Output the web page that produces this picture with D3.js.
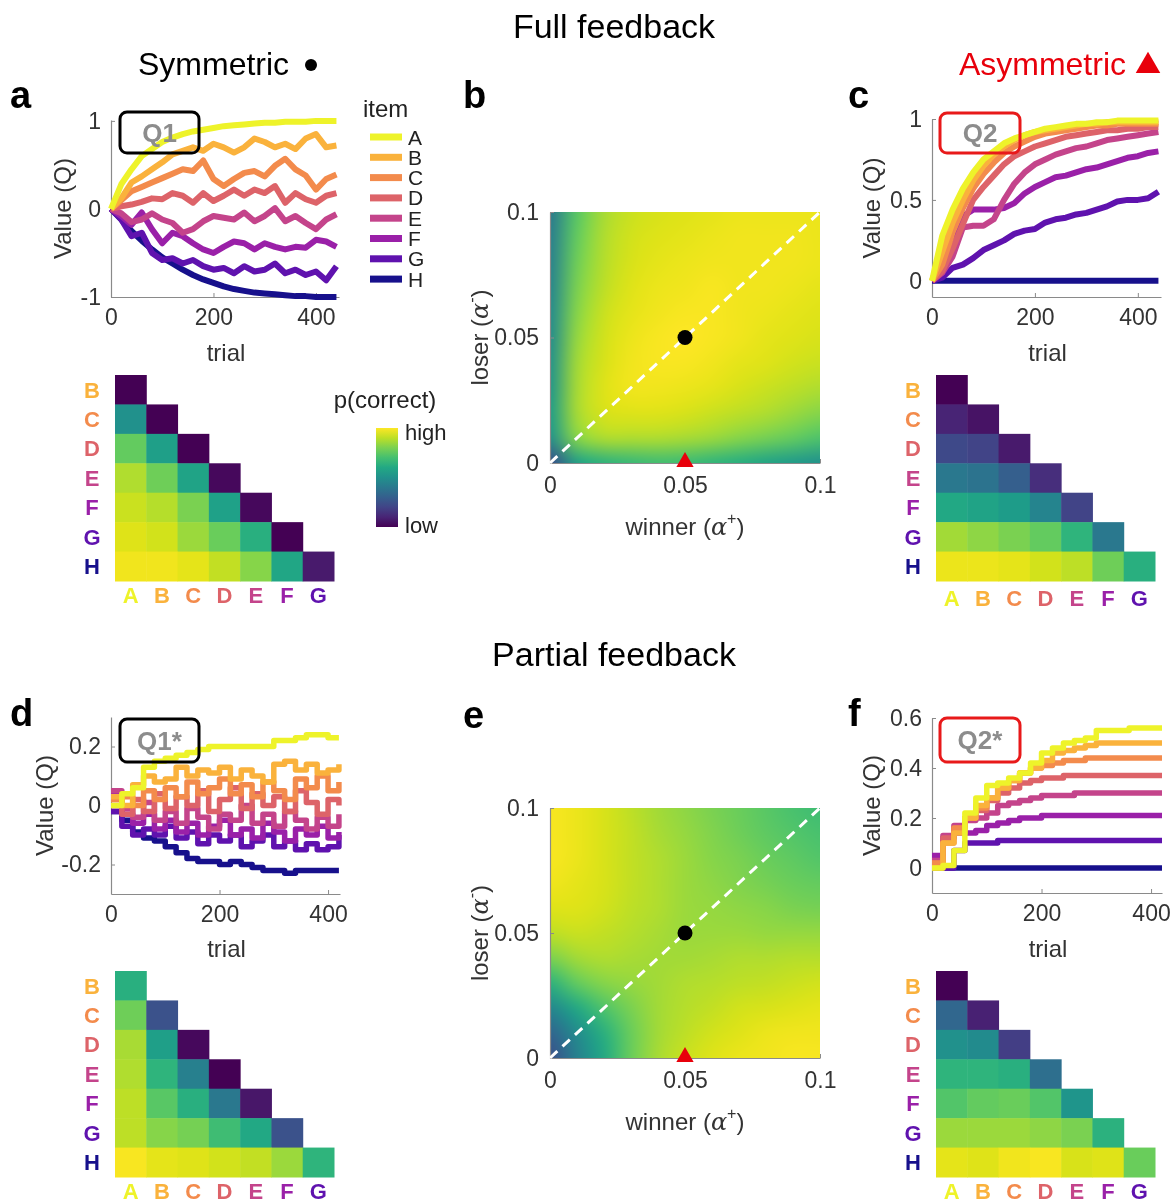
<!DOCTYPE html>
<html>
<head>
<meta charset="utf-8">
<script src="https://cdn.jsdelivr.net/npm/d3@7"></script>
<style>
  body { margin: 0; background: #fff; }
  #wrap { position: relative; width: 1174px; height: 1204px; background: #fff; }
  #surf, #fig { position: absolute; left: 0; top: 0; }
  #fig { font-family: "Liberation Sans", Arial, Helvetica, sans-serif; }
</style>
</head>
<body>
<div id="wrap">
  <canvas id="surf" width="1174" height="1204"></canvas>
  <svg id="fig" width="1174" height="1204"></svg>
</div>
<script>
// ---------- items ----------
const items = ["A", "B", "C", "D", "E", "F", "G", "H"];
const itemColors = ["#eef32a", "#fab23c", "#f38b4c", "#dd6369", "#c4448b", "#9a20a8", "#5f12ae", "#17108c"];

// ---------- trials ----------
const trialsFull = [0, 20, 40, 60, 80, 100, 120, 140, 160, 180, 200, 220, 240, 260, 280, 300, 320, 340, 360, 380, 400, 420, 440];
const trialsPartial = [0, 20, 40, 60, 80, 100, 120, 140, 160, 180, 200, 220, 240, 260, 280, 300, 320, 340, 360, 380, 400, 420];

// ---------- Q1 (symmetric, full feedback) ----------
const q1Full = [
  [0, 0.28, 0.45, 0.6, 0.68, 0.76, 0.81, 0.85, 0.88, 0.9, 0.92, 0.94, 0.95, 0.96, 0.97, 0.98, 0.98, 0.99, 0.99, 0.99, 1, 1, 1],
  [0, 0.12, 0.3, 0.37, 0.45, 0.53, 0.62, 0.66, 0.7, 0.66, 0.74, 0.7, 0.64, 0.7, 0.8, 0.76, 0.7, 0.74, 0.68, 0.8, 0.85, 0.7, 0.72],
  [0, 0.1, 0.2, 0.25, 0.3, 0.35, 0.4, 0.45, 0.43, 0.55, 0.34, 0.26, 0.34, 0.41, 0.43, 0.37, 0.49, 0.57, 0.45, 0.38, 0.22, 0.34, 0.39],
  [0, 0.03, 0.05, 0.08, 0.12, 0.11, 0.18, 0.15, 0.07, 0.18, 0.09, 0.15, 0.22, 0.15, 0.22, 0.18, 0.26, 0.07, 0.18, 0.11, 0.07, 0.15, 0.18],
  [0, -0.05, -0.15, -0.12, -0.05, -0.12, -0.16, -0.27, -0.23, -0.14, -0.08, -0.1, -0.12, -0.04, -0.14, -0.08, 0.01, -0.14, -0.08, -0.16, -0.23, -0.12, -0.06],
  [0, -0.08, -0.18, -0.04, -0.23, -0.39, -0.27, -0.31, -0.39, -0.46, -0.5, -0.43, -0.37, -0.39, -0.46, -0.39, -0.43, -0.46, -0.43, -0.44, -0.35, -0.37, -0.43],
  [0, -0.12, -0.31, -0.27, -0.5, -0.58, -0.56, -0.62, -0.58, -0.65, -0.69, -0.67, -0.73, -0.65, -0.71, -0.69, -0.62, -0.73, -0.69, -0.75, -0.71, -0.81, -0.65],
  [0, -0.12, -0.25, -0.36, -0.46, -0.55, -0.62, -0.69, -0.75, -0.8, -0.84, -0.88, -0.91, -0.93, -0.95, -0.96, -0.97, -0.98, -0.99, -0.99, -1, -1, -1]
];

// ---------- Q2 (asymmetric, full feedback) ----------
const q2Full = [
  [0, 0.28, 0.44, 0.57, 0.67, 0.75, 0.8, 0.85, 0.88, 0.9, 0.92, 0.94, 0.95, 0.96, 0.97, 0.97, 0.98, 0.98, 0.99, 0.99, 0.99, 0.99, 0.99],
  [0, 0.18, 0.36, 0.5, 0.62, 0.71, 0.78, 0.83, 0.87, 0.9, 0.92, 0.93, 0.94, 0.95, 0.96, 0.97, 0.97, 0.98, 0.98, 0.98, 0.98, 0.98, 0.98],
  [0, 0.1, 0.3, 0.45, 0.57, 0.66, 0.73, 0.79, 0.83, 0.86, 0.89, 0.91, 0.92, 0.93, 0.94, 0.95, 0.96, 0.96, 0.97, 0.97, 0.97, 0.97, 0.97],
  [0, 0.06, 0.2, 0.35, 0.5, 0.58, 0.65, 0.72, 0.77, 0.8, 0.83, 0.85, 0.87, 0.89, 0.9, 0.91, 0.92, 0.93, 0.93, 0.94, 0.94, 0.95, 0.95],
  [0, 0.05, 0.15, 0.33, 0.34, 0.34, 0.38, 0.5, 0.6, 0.67, 0.72, 0.75, 0.78, 0.8, 0.82, 0.83, 0.85, 0.87, 0.88, 0.89, 0.9, 0.91, 0.92],
  [0, 0.05, 0.25, 0.4, 0.44, 0.44, 0.44, 0.45, 0.48, 0.54, 0.58, 0.61, 0.64, 0.65, 0.67, 0.69, 0.7, 0.72, 0.74, 0.76, 0.77, 0.79, 0.8],
  [0, 0.02, 0.08, 0.1, 0.14, 0.19, 0.22, 0.25, 0.29, 0.31, 0.32, 0.36, 0.38, 0.39, 0.41, 0.42, 0.44, 0.46, 0.49, 0.5, 0.5, 0.51, 0.55],
  [0, 0, 0, 0, 0, 0, 0, 0, 0, 0, 0, 0, 0, 0, 0, 0, 0, 0, 0, 0, 0, 0, 0]
];

// ---------- Q1* (symmetric, partial feedback) ----------
const q1Partial = [
  [0, 0.04, 0.06, 0.13, 0.15, 0.16, 0.17, 0.18, 0.19, 0.2, 0.2, 0.2, 0.2, 0.2, 0.2, 0.22, 0.22, 0.23, 0.24, 0.24, 0.23, 0.23],
  [0.03, 0, 0.07, 0.1, 0.08, 0.09, 0.13, 0.1, 0.12, 0.11, 0.13, 0.09, 0.12, 0.1, 0.08, 0.14, 0.15, 0.12, 0.14, 0.11, 0.12, 0.14],
  [0.02, 0.03, 0, 0.05, 0.02, 0.06, 0.03, 0.08, 0.04, 0.06, 0.09, 0.04, 0.07, 0.03, 0.08, 0.05, 0.02, 0.09, 0.06, 0.1, 0.05, 0.08],
  [0, -0.03, 0.02, -0.02, 0.04, -0.01, 0.03, 0, 0.05, -0.02, 0.02, 0.06, -0.01, 0.04, 0, 0.03, -0.02, 0.05, 0.01, -0.03, 0.02, 0],
  [0.05, -0.01, -0.04, 0.01, -0.05, -0.02, -0.06, -0.01, -0.04, -0.08, -0.03, -0.05, 0, -0.06, -0.03, -0.07, -0.02, -0.05, -0.08, -0.04, -0.07, -0.03],
  [0.04, -0.03, -0.06, -0.03, -0.08, -0.05, -0.09, -0.06, -0.1, -0.07, -0.05, -0.1, -0.08, -0.11, -0.06, -0.09, -0.12, -0.08, -0.1, -0.07, -0.11, -0.09],
  [-0.02, -0.07, -0.1, -0.08, -0.1, -0.07, -0.11, -0.09, -0.13, -0.1, -0.12, -0.1, -0.14, -0.12, -0.1, -0.14, -0.12, -0.15, -0.13, -0.15, -0.14, -0.1],
  [-0.02, -0.05, -0.09, -0.11, -0.12, -0.14, -0.16, -0.18, -0.19, -0.19, -0.2, -0.19, -0.2, -0.21, -0.22, -0.22, -0.23, -0.22, -0.22, -0.22, -0.22, -0.22]
];

// ---------- Q2* (asymmetric, partial feedback) ----------
const q2Partial = [
  [0, 0.01, 0.07, 0.22, 0.28, 0.33, 0.34, 0.36, 0.38, 0.42, 0.46, 0.48, 0.5, 0.51, 0.52, 0.55, 0.55, 0.55, 0.56, 0.56, 0.56, 0.56],
  [0, 0.1, 0.14, 0.2, 0.25, 0.28, 0.32, 0.35, 0.38, 0.4, 0.43, 0.46, 0.47, 0.48, 0.49, 0.5, 0.5, 0.5, 0.5, 0.5, 0.5, 0.5],
  [0.02, 0.1, 0.16, 0.2, 0.24, 0.28, 0.32, 0.35, 0.38, 0.4, 0.41, 0.42, 0.43, 0.43, 0.44, 0.44, 0.44, 0.44, 0.44, 0.44, 0.44, 0.44],
  [0.02, 0.12, 0.16, 0.2, 0.23, 0.27, 0.3, 0.32, 0.34, 0.35, 0.36, 0.36, 0.37, 0.37, 0.37, 0.37, 0.37, 0.37, 0.37, 0.37, 0.37, 0.37],
  [0.03, 0.13, 0.17, 0.19, 0.2, 0.22, 0.25, 0.26, 0.27, 0.28, 0.29, 0.29, 0.29, 0.3, 0.3, 0.3, 0.3, 0.3, 0.3, 0.3, 0.3, 0.3],
  [0.05, 0.12, 0.14, 0.14, 0.15, 0.17, 0.18, 0.19, 0.2, 0.2, 0.21, 0.21, 0.21, 0.21, 0.21, 0.21, 0.21, 0.21, 0.21, 0.21, 0.21, 0.21],
  [0, 0, 0.07, 0.1, 0.1, 0.1, 0.11, 0.11, 0.11, 0.11, 0.11, 0.11, 0.11, 0.11, 0.11, 0.11, 0.11, 0.11, 0.11, 0.11, 0.11, 0.11],
  [0, 0, 0, 0, 0, 0, 0, 0, 0, 0, 0, 0, 0, 0, 0, 0, 0, 0, 0, 0, 0, 0]
];

// ---------- pairwise p(correct), rows B..H, columns A..(row-1) ----------
const pairSym = [
  [0.0],
  [0.5, 0.0],
  [0.76, 0.56, 0.0],
  [0.88, 0.78, 0.58, 0.02],
  [0.92, 0.89, 0.8, 0.57, 0.02],
  [0.95, 0.93, 0.85, 0.77, 0.63, 0.0],
  [0.98, 0.98, 0.96, 0.91, 0.82, 0.59, 0.07]
];
const pairAsym = [
  [0.0],
  [0.1, 0.05],
  [0.22, 0.2, 0.07],
  [0.4, 0.38, 0.3, 0.13],
  [0.6, 0.58, 0.55, 0.45, 0.2],
  [0.86, 0.83, 0.8, 0.76, 0.65, 0.4],
  [0.97, 0.97, 0.96, 0.93, 0.9, 0.78, 0.63]
];
const pairSymPartial = [
  [0.63],
  [0.78, 0.25],
  [0.87, 0.56, 0.02],
  [0.88, 0.65, 0.43, 0.0],
  [0.9, 0.74, 0.63, 0.4, 0.06],
  [0.9, 0.82, 0.79, 0.69, 0.6, 0.25],
  [0.99, 0.96, 0.95, 0.93, 0.91, 0.85, 0.65]
];
const pairAsymPartial = [
  [0.0],
  [0.33, 0.09],
  [0.5, 0.48, 0.18],
  [0.65, 0.65, 0.63, 0.36],
  [0.73, 0.76, 0.77, 0.73, 0.52],
  [0.85, 0.85, 0.85, 0.83, 0.8, 0.64],
  [0.96, 0.95, 0.98, 0.99, 0.94, 0.95, 0.77]
];

// ---------- p(correct) over learning rates: rows loser 0.1 -> 0, columns winner 0 -> 0.1 ----------
const alphaSteps = [0, 0.01, 0.02, 0.03, 0.04, 0.05, 0.06, 0.07, 0.08, 0.09, 0.1];
const surfFull = [
  [0.4, 0.74, 0.87, 0.92, 0.94, 0.95, 0.96, 0.97, 0.97, 0.97, 0.97],
  [0.42, 0.76, 0.88, 0.93, 0.95, 0.96, 0.97, 0.98, 0.98, 0.98, 0.97],
  [0.43, 0.78, 0.89, 0.94, 0.96, 0.97, 0.98, 0.98, 0.98, 0.98, 0.97],
  [0.45, 0.8, 0.9, 0.95, 0.97, 0.98, 0.99, 0.98, 0.98, 0.97, 0.96],
  [0.47, 0.82, 0.92, 0.96, 0.98, 0.99, 0.99, 0.98, 0.97, 0.96, 0.95],
  [0.48, 0.84, 0.93, 0.97, 0.99, 1.0, 0.99, 0.98, 0.96, 0.95, 0.94],
  [0.5, 0.86, 0.94, 0.98, 0.99, 0.99, 0.98, 0.96, 0.95, 0.93, 0.92],
  [0.52, 0.87, 0.95, 0.98, 0.98, 0.97, 0.96, 0.94, 0.92, 0.9, 0.88],
  [0.55, 0.87, 0.94, 0.95, 0.95, 0.94, 0.92, 0.9, 0.88, 0.85, 0.82],
  [0.5, 0.82, 0.88, 0.88, 0.88, 0.87, 0.85, 0.82, 0.79, 0.76, 0.72],
  [0.22, 0.56, 0.64, 0.67, 0.69, 0.68, 0.65, 0.62, 0.58, 0.54, 0.5]
];
const surfPartial = [
  [0.99, 0.97, 0.94, 0.9, 0.86, 0.83, 0.8, 0.77, 0.74, 0.71, 0.69],
  [0.99, 0.97, 0.94, 0.91, 0.87, 0.84, 0.81, 0.78, 0.75, 0.73, 0.71],
  [0.99, 0.97, 0.94, 0.91, 0.88, 0.85, 0.82, 0.8, 0.77, 0.75, 0.73],
  [0.98, 0.96, 0.94, 0.91, 0.88, 0.85, 0.83, 0.81, 0.79, 0.77, 0.76],
  [0.95, 0.95, 0.93, 0.9, 0.88, 0.85, 0.84, 0.83, 0.82, 0.8, 0.79],
  [0.9, 0.92, 0.91, 0.89, 0.87, 0.85, 0.85, 0.85, 0.84, 0.84, 0.84],
  [0.8, 0.86, 0.88, 0.87, 0.86, 0.86, 0.87, 0.88, 0.88, 0.89, 0.89],
  [0.64, 0.76, 0.82, 0.84, 0.86, 0.88, 0.89, 0.9, 0.91, 0.92, 0.93],
  [0.46, 0.6, 0.72, 0.8, 0.86, 0.89, 0.91, 0.93, 0.94, 0.95, 0.96],
  [0.32, 0.48, 0.63, 0.77, 0.86, 0.9, 0.93, 0.95, 0.97, 0.98, 0.98],
  [0.24, 0.43, 0.6, 0.77, 0.87, 0.92, 0.95, 0.97, 0.98, 0.99, 0.99]
];

// ---------- ticks ----------
const trialTicks = [0, 200, 400];
const trialTickLabels = ["0", "200", "400"];
const q1Ticks = [-1, 0, 1], q1TickLabels = ["-1", "0", "1"];
const q2Ticks = [0, 0.5, 1], q2TickLabels = ["0", "0.5", "1"];
const q1pTicks = [-0.2, 0, 0.2], q1pTickLabels = ["-0.2", "0", "0.2"];
const q2pTicks = [0, 0.2, 0.4, 0.6], q2pTickLabels = ["0", "0.2", "0.4", "0.6"];
const alphaTicks = [0, 0.05, 0.1], alphaTickLabels = ["0", "0.05", "0.1"];

// ---------- drawing ----------
const FONT = '"Liberation Sans", Arial, Helvetica, sans-serif';
const svg = d3.select("#fig");
const ctx = document.getElementById("surf").getContext("2d");
const viridis = d3.scaleSequential(d3.interpolateViridis).domain([0, 1]);
const AXIS_COLOR = "#8a8a8a";
const TICK_TEXT = "#333";

function styleAxis(g) {
  g.attr("font-size", 23).attr("font-family", FONT);
  g.select(".domain").attr("stroke", AXIS_COLOR).attr("stroke-width", 1.2);
  g.selectAll(".tick line").attr("stroke", AXIS_COLOR);
  g.selectAll(".tick text").attr("fill", TICK_TEXT);
}

function addAxes(g, x, y, xt, xtl, yt, ytl, padX, padY) {
  g.append("g")
    .attr("transform", `translate(0,${y.range()[0]})`)
    .call(d3.axisBottom(x).tickValues(xt).tickFormat((d, i) => xtl[i])
      .tickSizeInner(-4).tickSizeOuter(0).tickPadding(padX))
    .call(styleAxis);
  g.append("g")
    .attr("transform", `translate(${x.range()[0]},0)`)
    .call(d3.axisLeft(y).tickValues(yt).tickFormat((d, i) => ytl[i])
      .tickSizeInner(-4).tickSizeOuter(0).tickPadding(padY))
    .call(styleAxis);
}

function rotLabel(g, cx, cy, node) {
  const t = g.append("text")
    .attr("transform", `translate(${cx},${cy}) rotate(-90)`)
    .attr("text-anchor", "middle").attr("dy", "0.35em")
    .attr("font-size", 24).attr("fill", "#333");
  node(t);
}

function linePanel(p) {
  const x = d3.scaleLinear().domain(p.xDomain).range(p.xRange);
  const y = d3.scaleLinear().domain(p.yDomain).range(p.yRange);
  const g = svg.append("g");
  addAxes(g, x, y, trialTicks, trialTickLabels, p.yTicks, p.yTickLabels, 12, 10);
  const line = d3.line().x((d, i) => x(p.trials[i])).y(d => y(d)).curve(p.curve);
  for (let k = items.length - 1; k >= 0; k--) {
    g.append("path")
      .attr("d", line(p.series[k]))
      .attr("fill", "none")
      .attr("stroke", itemColors[k])
      .attr("stroke-width", p.lw)
      .attr("stroke-linejoin", "round");
  }
  // model tag
  g.append("rect")
    .attr("x", p.box[0]).attr("y", p.box[1]).attr("width", p.box[2]).attr("height", p.box[3])
    .attr("rx", 7).attr("fill", "none").attr("stroke", p.boxColor).attr("stroke-width", 3);
  g.append("text")
    .attr("x", p.box[0] + p.box[2] / 2).attr("y", p.box[1] + p.box[3] / 2)
    .attr("dy", "0.36em").attr("text-anchor", "middle")
    .attr("font-size", 26).attr("font-weight", "bold").attr("fill", "#8c8c8c")
    .text(p.tag);
  // axis titles
  rotLabel(g, p.yLabelX, (p.yRange[0] + p.yRange[1]) / 2, t => t.text("Value (Q)"));
  g.append("text")
    .attr("x", (p.xRange[0] + p.xRange[1]) / 2 + 1).attr("y", p.xLabelY)
    .attr("text-anchor", "middle").attr("dy", "0.35em")
    .attr("font-size", 24).attr("fill", "#333").text("trial");
}

function pairPanel(p) {
  const cols = d3.scaleBand().domain(items.slice(0, 7)).range(p.xRange);
  const rows = d3.scaleBand().domain(items.slice(1)).range(p.yRange);
  const g = svg.append("g");
  p.values.forEach((row, i) => {
    row.forEach((v, j) => {
      g.append("rect")
        .attr("x", cols(items[j])).attr("y", rows(items[i + 1]))
        .attr("width", cols.bandwidth() + 0.5).attr("height", rows.bandwidth() + 0.5)
        .attr("fill", viridis(v));
    });
  });
  items.slice(1).forEach((it, i) => {
    g.append("text")
      .attr("x", p.rowLabelX).attr("y", rows(it) + rows.bandwidth() / 2)
      .attr("dy", "0.36em").attr("text-anchor", "middle")
      .attr("font-size", 22).attr("font-weight", "bold").attr("fill", itemColors[i + 1])
      .text(it);
  });
  items.slice(0, 7).forEach((it, i) => {
    g.append("text")
      .attr("x", cols(it) + cols.bandwidth() / 2).attr("y", p.colLabelY)
      .attr("dy", "0.36em").attr("text-anchor", "middle")
      .attr("font-size", 22).attr("font-weight", "bold").attr("fill", itemColors[i])
      .text(it);
  });
}

function alphaLabel(t, sign) {
  t.append("tspan").text(sign === "+" ? "winner (" : "loser (");
  t.append("tspan").attr("font-family", '"DejaVu Serif", "Liberation Serif", serif')
    .attr("font-style", "italic").text("\u03b1");
  t.append("tspan").attr("font-size", 16).attr("dy", "-0.7em").text(sign === "+" ? "+" : "-");
  t.append("tspan").attr("dy", "0.45em").text(")");
}

function surfacePanel(p) {
  const x = d3.scaleLinear().domain([0, 0.1]).range(p.xRange);
  const y = d3.scaleLinear().domain([0, 0.1]).range(p.yRange);
  const n = alphaSteps.length;
  const half = (alphaSteps[1] - alphaSteps[0]) / 2;
  // grid as a tiny image, upscaled with smoothing
  const small = document.createElement("canvas");
  small.width = n; small.height = n;
  const sctx = small.getContext("2d");
  const img = sctx.createImageData(n, n);
  p.grid.forEach((row, r) => row.forEach((v, c) => {
    const col = d3.rgb(viridis(v));
    const o = (r * n + c) * 4;
    img.data[o] = col.r; img.data[o + 1] = col.g; img.data[o + 2] = col.b; img.data[o + 3] = 255;
  }));
  sctx.putImageData(img, 0, 0);
  ctx.save();
  ctx.beginPath();
  ctx.rect(x(0), y(0.1), x(0.1) - x(0), y(0) - y(0.1));
  ctx.clip();
  ctx.imageSmoothingEnabled = true;
  ctx.imageSmoothingQuality = "high";
  const lo = alphaSteps[0] - half, hi = alphaSteps[n - 1] + half;
  ctx.drawImage(small, 0, 0, n, n, x(lo), y(hi), x(hi) - x(lo), y(lo) - y(hi));
  ctx.restore();

  const g = svg.append("g");
  addAxes(g, x, y, alphaTicks, alphaTickLabels, alphaTicks, alphaTickLabels, 14, 11);
  // identity line
  g.append("line")
    .attr("x1", x(0)).attr("y1", y(0)).attr("x2", x(0.1)).attr("y2", y(0.1))
    .attr("stroke", "#fff").attr("stroke-width", 3).attr("stroke-dasharray", "10,7");
  // symmetric model
  g.append("circle").attr("cx", x(p.sym[0])).attr("cy", y(p.sym[1])).attr("r", 7.5).attr("fill", "#000");
  // asymmetric model
  g.append("path")
    .attr("d", d3.symbol(d3.symbolTriangle, 130)())
    .attr("transform", `translate(${x(p.asym[0])},${y(p.asym[1]) - 1})`)
    .attr("fill", "#e8000b");
  // axis titles
  const xl = g.append("text")
    .attr("x", (p.xRange[0] + p.xRange[1]) / 2).attr("y", p.xLabelY)
    .attr("text-anchor", "middle").attr("dy", "0.35em")
    .attr("font-size", 24).attr("fill", "#333");
  alphaLabel(xl, "+");
  rotLabel(g, p.yLabelX, (p.yRange[0] + p.yRange[1]) / 2, t => alphaLabel(t, "-"));
}

// ---------- titles ----------
function text(x, y, str, size, opts = {}) {
  return svg.append("text").attr("x", x).attr("y", y)
    .attr("font-size", size).attr("fill", opts.fill || "#000")
    .attr("font-weight", opts.bold ? "bold" : "normal")
    .attr("text-anchor", opts.anchor || "start").text(str);
}
text(614, 38, "Full feedback", 34, { anchor: "middle" });
text(614, 666, "Partial feedback", 34, { anchor: "middle" });
text(138, 75, "Symmetric", 32);
svg.append("circle").attr("cx", 311).attr("cy", 65).attr("r", 6).attr("fill", "#000");
text(1126, 75, "Asymmetric", 32, { anchor: "end", fill: "#e8000b" });
svg.append("path").attr("d", d3.symbol(d3.symbolTriangle, 260)())
  .attr("transform", "translate(1148,66)").attr("fill", "#e8000b");

text(10, 108, "a", 38, { bold: true });
text(463, 108, "b", 38, { bold: true });
text(848, 108, "c", 38, { bold: true });
text(10, 726, "d", 38, { bold: true });
text(463, 728, "e", 38, { bold: true });
text(848, 726, "f", 38, { bold: true });

// ---------- panels ----------
linePanel({
  trials: trialsFull, series: q1Full, curve: d3.curveLinear, lw: 6,
  xDomain: [0, 445], xRange: [111, 339], yDomain: [-1, 1.01], yRange: [297, 120],
  yTicks: q1Ticks, yTickLabels: q1TickLabels,
  box: [120, 112, 79, 41], boxColor: "#000", tag: "Q1", yLabelX: 63, xLabelY: 353
});
linePanel({
  trials: trialsFull, series: q2Full, curve: d3.curveLinear, lw: 6,
  xDomain: [0, 445], xRange: [932, 1161], yDomain: [-0.1, 1], yRange: [297, 119],
  yTicks: q2Ticks, yTickLabels: q2TickLabels,
  box: [940, 113, 80, 40], boxColor: "#e8191a", tag: "Q2", yLabelX: 872, xLabelY: 353
});
linePanel({
  trials: trialsPartial, series: q1Partial, curve: d3.curveStepAfter, lw: 5.5,
  xDomain: [0, 422], xRange: [111, 340], yDomain: [-0.3, 0.3], yRange: [894, 717],
  yTicks: q1pTicks, yTickLabels: q1pTickLabels,
  box: [120, 719, 79, 43], boxColor: "#000", tag: "Q1*", yLabelX: 45, xLabelY: 949
});
linePanel({
  trials: trialsPartial, series: q2Partial, curve: d3.curveStepAfter, lw: 5.5,
  xDomain: [0, 420], xRange: [932, 1162], yDomain: [-0.1, 0.6], yRange: [893, 718],
  yTicks: q2pTicks, yTickLabels: q2pTickLabels,
  box: [940, 718, 80, 44], boxColor: "#e8191a", tag: "Q2*", yLabelX: 872, xLabelY: 949
});

// legend (panel a)
text(363, 117, "item", 24, { fill: "#222" });
items.forEach((it, i) => {
  const yy = 137 + i * 20.3;
  svg.append("line").attr("x1", 370).attr("x2", 402).attr("y1", yy).attr("y2", yy)
    .attr("stroke", itemColors[i]).attr("stroke-width", 7);
  svg.append("text").attr("x", 408).attr("y", yy).attr("dy", "0.36em")
    .attr("font-size", 21).attr("fill", "#222").text(it);
});

pairPanel({ values: pairSym, xRange: [115, 334], yRange: [375, 581], rowLabelX: 92, colLabelY: 595 });
pairPanel({ values: pairAsym, xRange: [936, 1155], yRange: [375, 581], rowLabelX: 913, colLabelY: 598 });
pairPanel({ values: pairSymPartial, xRange: [115, 334], yRange: [971, 1177], rowLabelX: 92, colLabelY: 1191 });
pairPanel({ values: pairAsymPartial, xRange: [936, 1155], yRange: [971, 1177], rowLabelX: 913, colLabelY: 1191 });

// colour bar
const defs = svg.append("defs");
const grad = defs.append("linearGradient").attr("id", "cbar")
  .attr("x1", 0).attr("y1", 1).attr("x2", 0).attr("y2", 0);
d3.range(0, 1.0001, 0.1).forEach(t => grad.append("stop").attr("offset", t).attr("stop-color", viridis(t)));
svg.append("rect").attr("x", 376).attr("y", 428).attr("width", 22).attr("height", 99).attr("fill", "url(#cbar)");
text(385, 408, "p(correct)", 24, { anchor: "middle", fill: "#222" });
text(405, 440, "high", 22, { fill: "#222" });
text(405, 533, "low", 22, { fill: "#222" });

surfacePanel({ grid: surfFull, xRange: [550, 820], yRange: [463, 212], sym: [0.05, 0.05], asym: [0.05, 0],
  xLabelY: 527, yLabelX: 480 });
surfacePanel({ grid: surfPartial, xRange: [550, 820], yRange: [1058, 808], sym: [0.05, 0.05], asym: [0.05, 0],
  xLabelY: 1122, yLabelX: 480 });
</script>
</body>
</html>
